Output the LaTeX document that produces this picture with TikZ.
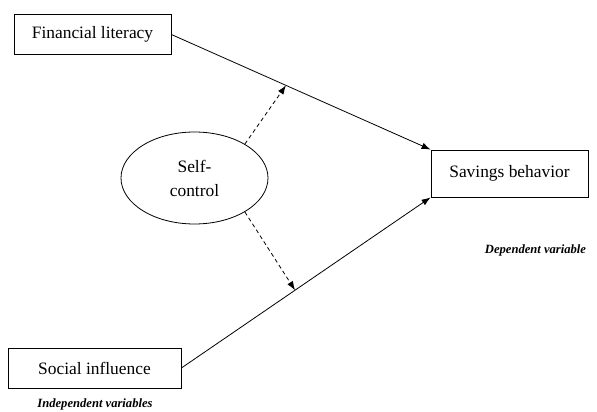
\documentclass[tikz,border=0pt]{standalone}
\usepackage{fontspec}
\setmainfont{Liberation Serif}
\usetikzlibrary{arrows.meta,calc,positioning,shapes.geometric}
\tikzset{
  varbox/.style = {draw, rectangle, line width=0.8pt, align=center, inner sep=2pt,
  font=\fontsize{17.4}{24}\selectfont},
  var_ind/.style = {varbox, minimum height=40pt},
  var_dep/.style = {varbox, minimum width=157pt, minimum height=47pt},
  var_mod/.style = {draw, ellipse, line width=0.8pt, align=center, inner sep=0pt,
  minimum width=147pt, minimum height=92pt, font=\fontsize{17.4}{24}\selectfont},
  grouplabel/.style = {font=\fontsize{12.6}{15}\selectfont\bfseries\itshape}
}

\begin{document}
\begin{tikzpicture}[x=1pt,y=-1pt,
        	effect/.style={line width=0.8pt, -{Latex[length=9pt,width=6.5pt]}},
        	moderate/.style={effect, dashed, dash pattern=on 4pt off 3pt}]
            \useasboundingbox (0,0) rectangle (597,412);
            \node [var_ind, minimum width=157pt] (finlit) at (92.5,34.5) {Financial literacy};
            \node [var_dep] (savings) at (509.5,173.5) {Savings behavior};
            \node [var_ind, minimum width=173pt] (social) at (94.5,368) {Social influence};
            \node [var_mod] (selfctl) at (194.5,178) {Self-\\control};
            \node [grouplabel] (indeplbl) at (95,404) {Independent variables};
            \node [grouplabel] (deplbl) at (535.5,250) {Dependent variable};
            % direct effects
            \draw [effect] (finlit.east) -- (savings.north west)
              coordinate[pos=0.442] (modtop);
            \draw [effect] (social.east) -- (savings.south west)
              coordinate[pos=0.456] (modbot);
            % moderation
            \draw [moderate] (selfctl.34) -- (modtop);
            \draw [moderate] (selfctl.-34) -- (modbot);
        \end{tikzpicture}
\end{document}
